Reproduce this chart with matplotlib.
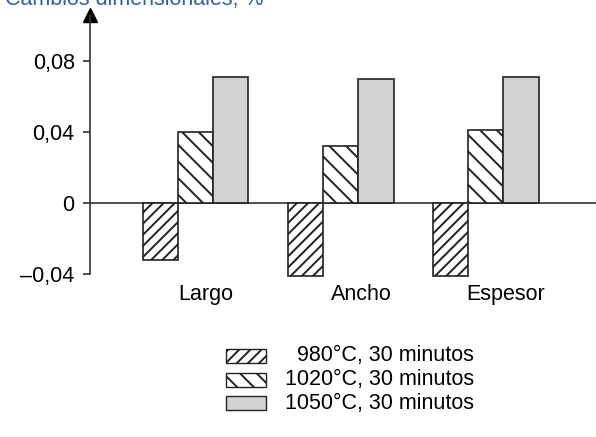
import matplotlib.pyplot as plt
from matplotlib.patches import Rectangle

plt.rcParams['font.family'] = ['Liberation Sans', 'DejaVu Sans']
plt.rcParams['hatch.linewidth'] = 1.4

categories = ["Largo", "Ancho", "Espesor"]
series_labels = ["980°C, 30 minutos", "1020°C, 30 minutos", "1050°C, 30 minutos"]
values_980 = [-0.032, -0.041, -0.041]
values_1020 = [0.040, 0.032, 0.041]
values_1050 = [0.071, 0.070, 0.071]
label_pos = [0.07, 1.14, 2.14]
yticks = [-0.04, 0, 0.04, 0.08]
ytick_labels = ["\u20130,04", "0", "0,04", "0,08"]

hatches = ["///", "\\\\", ""]
faces = ["white", "white", "#d2d2d2"]
series = [values_980, values_1020, values_1050]

fig = plt.figure(figsize=(5.96, 4.37), dpi=100)
ax = fig.add_axes([0.151, 0.373, 0.849, 0.593])

width = 0.243
x = range(len(categories))
for i, vals in enumerate(series):
    pos = [xi + (i - 1) * width for xi in x]
    ax.bar(pos, vals, width, color=faces[i], edgecolor="#222222",
           linewidth=1.2, hatch=hatches[i], zorder=3, clip_on=False)

ax.set_xlim(-0.728, 2.76)
ax.set_ylim(-0.04, 0.106)
ax.axhline(0, color="#333333", linewidth=1.2, zorder=2)

for s in ["top", "right", "bottom"]:
    ax.spines[s].set_visible(False)
ax.spines["left"].set_linewidth(1.2)
ax.spines["left"].set_color("#333333")
# arrow head at the top of the y axis
ax.plot([0], [1], marker="^", markersize=10, color="black",
        transform=ax.transAxes, clip_on=False)

ax.set_yticks(yticks)
ax.set_yticklabels(ytick_labels, fontsize=15.5)
ax.tick_params(axis="y", length=5, width=1.2, pad=6, color="#333333")
ax.set_xticks([])
for xi, name in zip(label_pos, categories):
    ax.text(xi, -0.0455, name, fontsize=15.5, ha="center", va="top")

# title is cut by the top edge in the original scan
fig.text(0.008, 0.989, "Cambios dimensionales, %", color="#2d5fb5",
         fontsize=15.5, va="baseline")

# legend: key boxes on the left, labels right aligned
key_y = [356, 380, 403]
for i, yc in enumerate(key_y):
    fy = 1 - (yc + 7) / 437
    fig.patches.append(Rectangle((226 / 596, fy), 40 / 596, 14 / 437,
                                 transform=fig.transFigure, facecolor=faces[i],
                                 edgecolor="#222222", linewidth=1.0,
                                 hatch=hatches[i]))
    fig.text(474 / 596, 1 - yc / 437, series_labels[i], fontsize=15.5,
             ha="right", va="center")

fig.savefig("out.png", dpi=100)
